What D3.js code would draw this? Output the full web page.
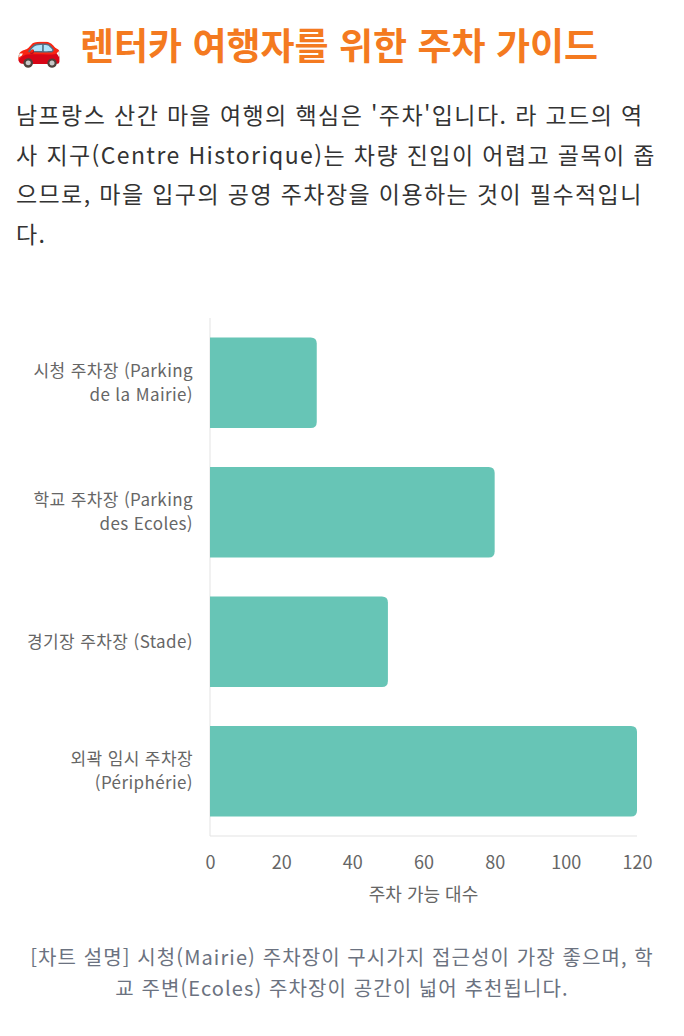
<!DOCTYPE html>
<html lang="ko">
<head>
<meta charset="utf-8">
<script src="https://cdn.jsdelivr.net/npm/d3@7"></script>
<style>
  html, body { margin: 0; padding: 0; background: #fff; font-family: "Noto Sans CJK KR", "Noto Sans", sans-serif; }
  #wrap { width: 684px; height: 1036px; position: relative; overflow: hidden; }
  h2 { margin: 0; position: absolute; left: 16px; top: 19px; font-size: 37px; font-weight: 700; color: #f47a20; line-height: 50px; white-space: nowrap; }
  h2 .icon { margin-right: 18px; }
  p.intro { margin: 0; position: absolute; left: 16px; top: 95px; font-size: 23px; letter-spacing: 1.4px; line-height: 39.5px; color: #333; white-space: nowrap; }
  #chart { position: absolute; left: 0; top: 300px; }
  p.caption { margin: 0; position: absolute; left: 0; top: 941px; width: 684px; text-align: center; font-size: 20px; letter-spacing: 1.1px; line-height: 31px; color: #6b7280; white-space: nowrap; }
</style>
</head>
<body>
<div id="wrap">
  <h2><span class="icon">🚗</span>렌터카 여행자를 위한 주차 가이드</h2>
  <p class="intro">남프랑스 산간 마을 여행의 핵심은 '주차'입니다. 라 고드의 역<br>사 지구(Centre Historique)는 차량 진입이 어렵고 골목이 좁<br>으므로, 마을 입구의 공영 주차장을 이용하는 것이 필수적입니<br>다.</p>
  <div id="chart"></div>
  <p class="caption">[차트 설명] 시청(Mairie) 주차장이 구시가지 접근성이 가장 좋으며, 학<br>교 주변(Ecoles) 주차장이 공간이 넓어 추천됩니다.</p>
</div>
<script>
// 주차장 데이터
const lots = ["mairie", "ecoles", "stade", "peripherie"];
const lotLabels = [
  ["시청 주차장 (Parking", "de la Mairie)"],
  ["학교 주차장 (Parking", "des Ecoles)"],
  ["경기장 주차장 (Stade)"],
  ["외곽 임시 주차장", "(Périphérie)"]
];
const capacity = [30, 80, 50, 120];
const xTicks = [0, 20, 40, 60, 80, 100, 120];
const xTitle = "주차 가능 대수";

const W = 684, H = 620;
const margin = {top: 18, right: 47, bottom: 84, left: 210};
const innerW = W - margin.left - margin.right;
const innerH = H - margin.top - margin.bottom;
const font = "'Noto Sans CJK KR', 'Noto Sans', sans-serif";

const svg = d3.select("#chart").append("svg")
  .attr("width", W)
  .attr("height", H)
  .style("display", "block")
  .style("font-family", font);

const g = svg.append("g")
  .attr("transform", "translate(" + margin.left + "," + margin.top + ")");

const x = d3.scaleLinear().domain([0, 120]).range([0, innerW]);
const y = d3.scaleBand().domain(lots).range([0, innerH]).paddingInner(0.3).paddingOuter(0.15);

// axis lines
g.append("line")
  .attr("x1", 0).attr("x2", 0).attr("y1", 0).attr("y2", innerH)
  .attr("stroke", "#e3e3e3").attr("stroke-width", 1);
g.append("line")
  .attr("x1", 0).attr("x2", innerW).attr("y1", innerH).attr("y2", innerH)
  .attr("stroke", "#e3e3e3").attr("stroke-width", 1);

// bars with rounded right end
const r = 6;
g.selectAll("path.bar")
  .data(lots)
  .enter().append("path")
  .attr("class", "bar")
  .attr("fill", "#67c5b6")
  .attr("d", function(d, i) {
    const w = x(capacity[i]) - x(0), y0 = y(d), h = y.bandwidth();
    return "M" + x(0) + "," + y0 +
      "H" + (w - r) +
      "Q" + w + "," + y0 + " " + w + "," + (y0 + r) +
      "V" + (y0 + h - r) +
      "Q" + w + "," + (y0 + h) + " " + (w - r) + "," + (y0 + h) +
      "H" + x(0) + "Z";
  });

// x axis ticks
const xAxis = g.append("g")
  .attr("transform", "translate(0," + innerH + ")")
  .call(d3.axisBottom(x).tickValues(xTicks).tickSize(0).tickPadding(20));
xAxis.select(".domain").remove();
xAxis.selectAll("text")
  .attr("font-size", 18)
  .attr("fill", "#666")
  .style("font-family", font);

g.append("text")
  .attr("x", innerW / 2)
  .attr("y", innerH + 59)
  .attr("dy", "0.35em")
  .attr("text-anchor", "middle")
  .attr("font-size", 18)
  .attr("fill", "#666")
  .text(xTitle);

// y labels
const lineH = 24;
g.selectAll("text.ylab")
  .data(lots)
  .enter().append("text")
  .attr("class", "ylab")
  .attr("text-anchor", "end")
  .attr("font-size", 17)
  .attr("letter-spacing", 0.4)
  .attr("fill", "#666")
  .each(function(d, i) {
    const lines = lotLabels[i];
    const cy = y(d) + y.bandwidth() / 2;
    const start = cy - (lines.length - 1) * lineH / 2;
    d3.select(this).selectAll("tspan")
      .data(lines)
      .enter().append("tspan")
      .attr("x", -17)
      .attr("y", function(t, j) { return start + j * lineH; })
      .attr("dy", "0.35em")
      .text(function(t) { return t; });
  });
</script>
</body>
</html>
